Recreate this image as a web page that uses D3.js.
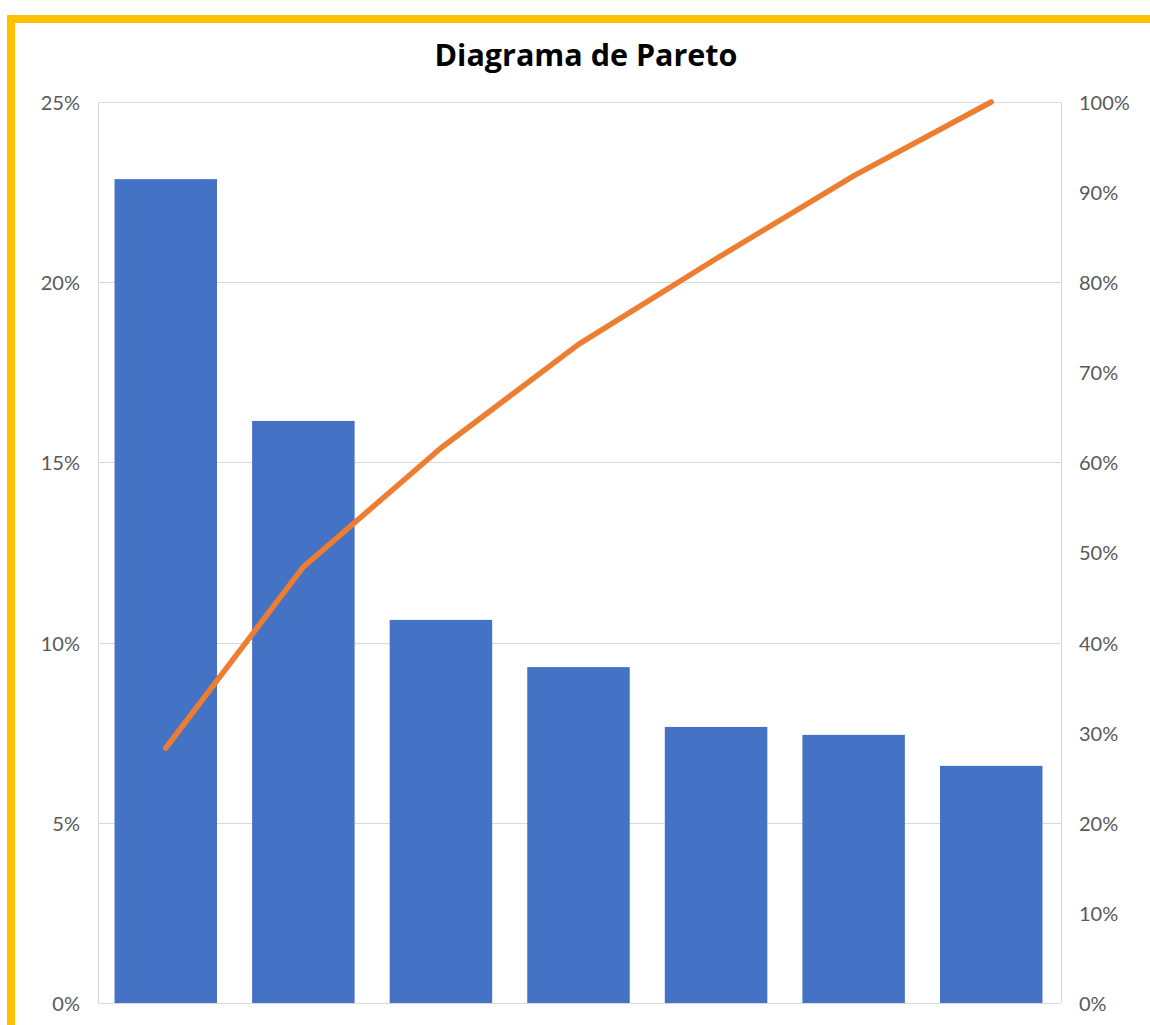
<!DOCTYPE html>
<html>
<head>
<meta charset="utf-8">
<script src="https://cdn.jsdelivr.net/npm/d3@7"></script>
<style>
  html, body { margin: 0; padding: 0; background: #fff; }
  svg { display: block; }
</style>
</head>
<body>
<svg id="chart" width="1150" height="1025"></svg>
<script>
// Categories (unlabelled in the chart) and the share of each one, in %
const categories = ["C1", "C2", "C3", "C4", "C5", "C6", "C7"];
const shares = [22.86, 16.15, 10.63, 9.32, 7.66, 7.44, 6.58];
// Cumulative percentage line, in %
const cumulative = [28.3, 48.4, 61.6, 73.1, 82.6, 91.8, 100];
// Axis tick values
const leftTicks = [0, 5, 10, 15, 20, 25];
const rightTicks = [0, 10, 20, 30, 40, 50, 60, 70, 80, 90, 100];
const title = "Diagrama de Pareto";

const svg = d3.select("#chart");
const font = "Lato, 'Open Sans', sans-serif";

// Frame around the chart
svg.append("rect")
  .attr("x", 11).attr("y", 19)
  .attr("width", 1300).attr("height", 1200)
  .attr("fill", "none")
  .attr("stroke", "#FFC000")
  .attr("stroke-width", 8);

const plot = { left: 98, right: 1061, top: 102, bottom: 1003 };

const x = d3.scaleBand()
  .domain(categories)
  .range([plot.left, plot.right])
  .paddingInner(0)
  .paddingOuter(0);
const barW = x.bandwidth() * 0.745;

const yLeft = d3.scaleLinear().domain([0, 25]).range([plot.bottom, plot.top]);
const yRight = d3.scaleLinear().domain([0, 100]).range([plot.bottom, plot.top]);

// Gridlines
svg.append("g")
  .selectAll("line")
  .data(leftTicks)
  .join("line")
  .attr("x1", plot.left).attr("x2", plot.right)
  .attr("y1", d => Math.round(yLeft(d)) + 0.5)
  .attr("y2", d => Math.round(yLeft(d)) + 0.5)
  .attr("stroke", "#D9D9D9")
  .attr("stroke-width", 1);

// Plot area sides
[plot.left, plot.right].forEach(px => {
  svg.append("line")
    .attr("x1", px + 0.5).attr("x2", px + 0.5)
    .attr("y1", plot.top).attr("y2", plot.bottom)
    .attr("stroke", "#D9D9D9");
});

// Bars
svg.append("g")
  .selectAll("rect")
  .data(shares)
  .join("rect")
  .attr("x", (d, i) => x(categories[i]) + (x.bandwidth() - barW) / 2 - 1)
  .attr("width", barW)
  .attr("y", d => yLeft(d))
  .attr("height", d => yLeft(0) - yLeft(d))
  .attr("fill", "#4472C4");

// Cumulative line
const line = d3.line()
  .x((d, i) => x(categories[i]) + x.bandwidth() / 2 - 1)
  .y(d => yRight(d));

svg.append("path")
  .datum(cumulative)
  .attr("d", line)
  .attr("fill", "none")
  .attr("stroke", "#ED7D31")
  .attr("stroke-width", 5.5)
  .attr("stroke-linecap", "round")
  .attr("stroke-linejoin", "round");

// Left axis
const leftAxis = d3.axisLeft(yLeft)
  .tickValues(leftTicks)
  .tickFormat(d => d + "%")
  .tickSize(0)
  .tickPadding(18);
const gL = svg.append("g").attr("transform", `translate(${plot.left},1)`).call(leftAxis);
gL.select(".domain").remove();
gL.selectAll("text")
  .attr("font-family", font)
  .attr("font-size", 20)
  .attr("fill", "#595959");

// Right axis
const rightAxis = d3.axisRight(yRight)
  .tickValues(rightTicks)
  .tickFormat(d => d + "%")
  .tickSize(0)
  .tickPadding(18);
const gR = svg.append("g").attr("transform", `translate(${plot.right},1)`).call(rightAxis);
gR.select(".domain").remove();
gR.selectAll("text")
  .attr("font-family", font)
  .attr("font-size", 20)
  .attr("fill", "#595959");

// Title
svg.append("text")
  .attr("x", 586)
  .attr("y", 66)
  .attr("text-anchor", "middle")
  .attr("font-family", "'Open Sans', Lato, sans-serif")
  .attr("font-weight", "bold")
  .attr("font-size", 30.5)
  .attr("fill", "#000")
  .text(title);
</script>
</body>
</html>
